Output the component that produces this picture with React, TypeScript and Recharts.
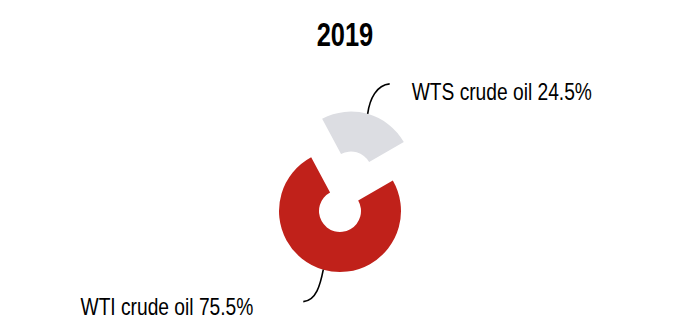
import React from 'react';
import { PieChart, Pie, Cell } from 'recharts';

const title = '2019';
const names = ['WTS crude oil', 'WTI crude oil'];
const values = [24.5, 75.5];
const colors = ['#DCDDE2', '#C0211A'];

const data = names.map((name, i) => ({ name, value: values[i] }));

const W = 692;
const H = 320;
const CX = 340;
const CY = 211;
const INNER = 21;
const OUTER = 61;
const START = 30;
const EXPLODE = 40;
const FONT = "'Liberation Sans', Arial, sans-serif";
const NARROW = 0.8;

const RAD = Math.PI / 180;
const total = values.reduce((a, b) => a + b, 0);
const wtsMid = START + (values[0] / total) * 360 / 2;
const ECX = CX + EXPLODE * Math.cos(wtsMid * RAD);
const ECY = CY - EXPLODE * Math.sin(wtsMid * RAD);

const makeLabel = (showIndex: number) => (props: any) => {
  const { cx, cy, midAngle, outerRadius, index, name, value } = props;
  if (index !== showIndex) return null;
  const sx = cx + outerRadius * Math.cos(-midAngle * RAD);
  const sy = cy + outerRadius * Math.sin(-midAngle * RAD);
  const txt = `${name} ${value}%`;
  if (showIndex === 0) {
    return (
      <g>
        <path
          d={`M${sx},${sy} C${sx + 2},${sy - 15} ${sx + 9},${sy - 29} ${sx + 22},${sy - 30}`}
          fill="none"
          stroke="#000"
          strokeWidth={1.6}
        />
        <text
          transform={`translate(${sx + 44},${sy - 14}) scale(${NARROW},1)`}
          fontFamily={FONT}
          fontSize={24}
          fill="#000"
          textAnchor="start"
        >
          {txt}
        </text>
      </g>
    );
  }
  return (
    <g>
      <path
        d={`M${sx},${sy} C${sx - 3},${sy + 15} ${sx - 7},${sy + 31} ${sx - 20},${sy + 32}`}
        fill="none"
        stroke="#000"
        strokeWidth={1.6}
      />
      <text
        transform={`translate(${sx - 70},${sy + 45}) scale(${NARROW},1)`}
        fontFamily={FONT}
        fontSize={24}
        fill="#000"
        textAnchor="end"
      >
        {txt}
      </text>
    </g>
  );
};

export default function App() {
  return (
    <div style={{ position: 'absolute', left: 0, top: 0, width: W, height: H, background: '#fff' }}>
      <PieChart width={W} height={H} margin={{ top: 0, right: 0, bottom: 0, left: 0 }}>
        <Pie
          data={data}
          dataKey="value"
          nameKey="name"
          cx={CX}
          cy={CY}
          innerRadius={INNER}
          outerRadius={OUTER}
          startAngle={START}
          endAngle={START + 360}
          stroke="none"
          isAnimationActive={false}
          label={makeLabel(1)}
          labelLine={false}
        >
          {data.map((d, i) => (
            <Cell key={d.name} fill={i === 1 ? colors[1] : 'none'} />
          ))}
        </Pie>
        <Pie
          data={data}
          dataKey="value"
          nameKey="name"
          cx={ECX}
          cy={ECY}
          innerRadius={INNER}
          outerRadius={OUTER}
          startAngle={START}
          endAngle={START + 360}
          stroke="none"
          isAnimationActive={false}
          label={makeLabel(0)}
          labelLine={false}
        >
          {data.map((d, i) => (
            <Cell key={d.name} fill={i === 0 ? colors[0] : 'none'} />
          ))}
        </Pie>
      </PieChart>
      <svg width={W} height={60} style={{ position: 'absolute', left: 0, top: 0, pointerEvents: 'none' }}>
        <text
          transform={`translate(345,45.5) scale(0.77,1)`}
          textAnchor="middle"
          fontFamily={FONT}
          fontWeight="bold"
          fontSize={33}
          fill="#000"
        >
          {title}
        </text>
      </svg>
    </div>
  );
}
